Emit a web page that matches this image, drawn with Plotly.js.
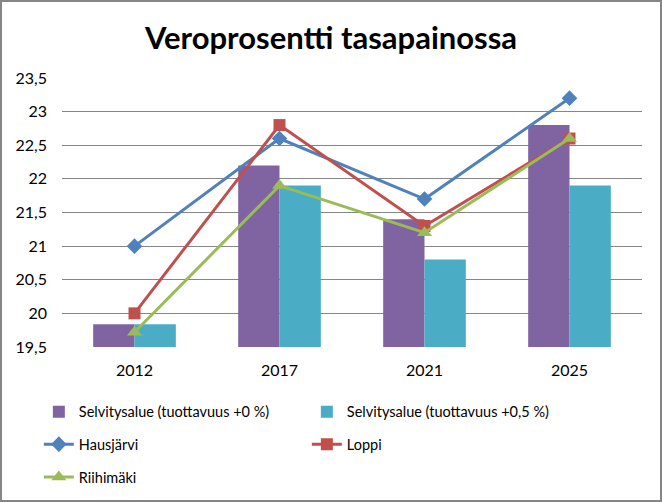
<!DOCTYPE html>
<html>
<head>
<meta charset="utf-8">
<script src="https://cdn.plot.ly/plotly-3.0.1.min.js"></script>
<style>
  body { margin: 0; background: #fff; }
  #chart { width: 658px; height: 498px; border: 2px solid #868686; }
</style>
</head>
<body>
<div id="chart"></div>
<script>
// values
var years = ['2012', '2017', '2021', '2025'];
var selvitys0 = [19.84, 22.2, 21.4, 22.8];
var selvitys05 = [19.84, 21.9, 20.8, 21.9];
var hausjarvi = [21.0, 22.6, 21.7, 23.2];
var loppi = [20.0, 22.8, 21.3, 22.6];
var riihimaki = [19.72, 21.9, 21.2, 22.6];

var fontFam = 'Lato, sans-serif';

function lineTrace(name, y, color, symbol, size, legend) {
    return {
        type: 'scatter', mode: 'lines+markers', name: name,
        x: years, y: y, legend: legend,
        line: { color: color, width: 3 },
        marker: { color: color, symbol: symbol, size: size }
    };
}

var data = [
    { type: 'bar', name: 'Selvitysalue (tuottavuus +0 %)', x: years, y: selvitys0,
      marker: { color: '#8064A2' }, legend: 'legend' },
    { type: 'bar', name: 'Selvitysalue (tuottavuus +0,5 %)', x: years, y: selvitys05,
      marker: { color: '#4BACC6' }, legend: 'legend' },
    lineTrace('Hausjärvi', hausjarvi, '#4F81BD', 'diamond', 12, 'legend2'),
    lineTrace('Loppi', loppi, '#C0504D', 'square', 12, 'legend2'),
    lineTrace('Riihimäki', riihimaki, '#9BBB59', 'triangle-up', 13, 'legend3')
];

// one legend box per row, placed like the reference
function legendAt(y) {
    return {
        orientation: 'h', x: 0.056, xref: 'container', xanchor: 'left',
        y: y, yref: 'container', yanchor: 'middle',
        entrywidth: 223, entrywidthmode: 'pixels',
        font: { family: fontFam, size: 14.5, color: '#000' },
        bgcolor: 'rgba(0,0,0,0)'
    };
}

var layout = {
    width: 658, height: 498,
    margin: { l: 60, r: 18, t: 76, b: 153 },
    paper_bgcolor: '#fff', plot_bgcolor: '#fff',
    separators: ', ',
    title: {
        text: '<b>Veroprosentti tasapainossa</b>',
        x: 0.5, xanchor: 'center', y: 0.928, yanchor: 'middle',
        font: { family: fontFam, size: 31, color: '#000' }
    },
    barmode: 'group', bargap: 0.43, bargroupgap: 0,
    xaxis: {
        type: 'category', showgrid: false, ticks: '', showline: false,
        ticklabelstandoff: 12,
        tickfont: { family: fontFam, size: 16, color: '#000' }
    },
    yaxis: {
        range: [19.5, 23.5], dtick: 0.5, showgrid: true, gridcolor: '#868686', gridwidth: 1,
        zeroline: false, showline: false, ticks: '', ticklabelstandoff: 14,
        tickfont: { family: fontFam, size: 16, color: '#000' }
    },
    legend: legendAt(0.177),
    legend2: legendAt(0.112),
    legend3: legendAt(0.046),
    showlegend: true
};

Plotly.newPlot('chart', data, layout, { displayModeBar: false });
</script>
</body>
</html>
